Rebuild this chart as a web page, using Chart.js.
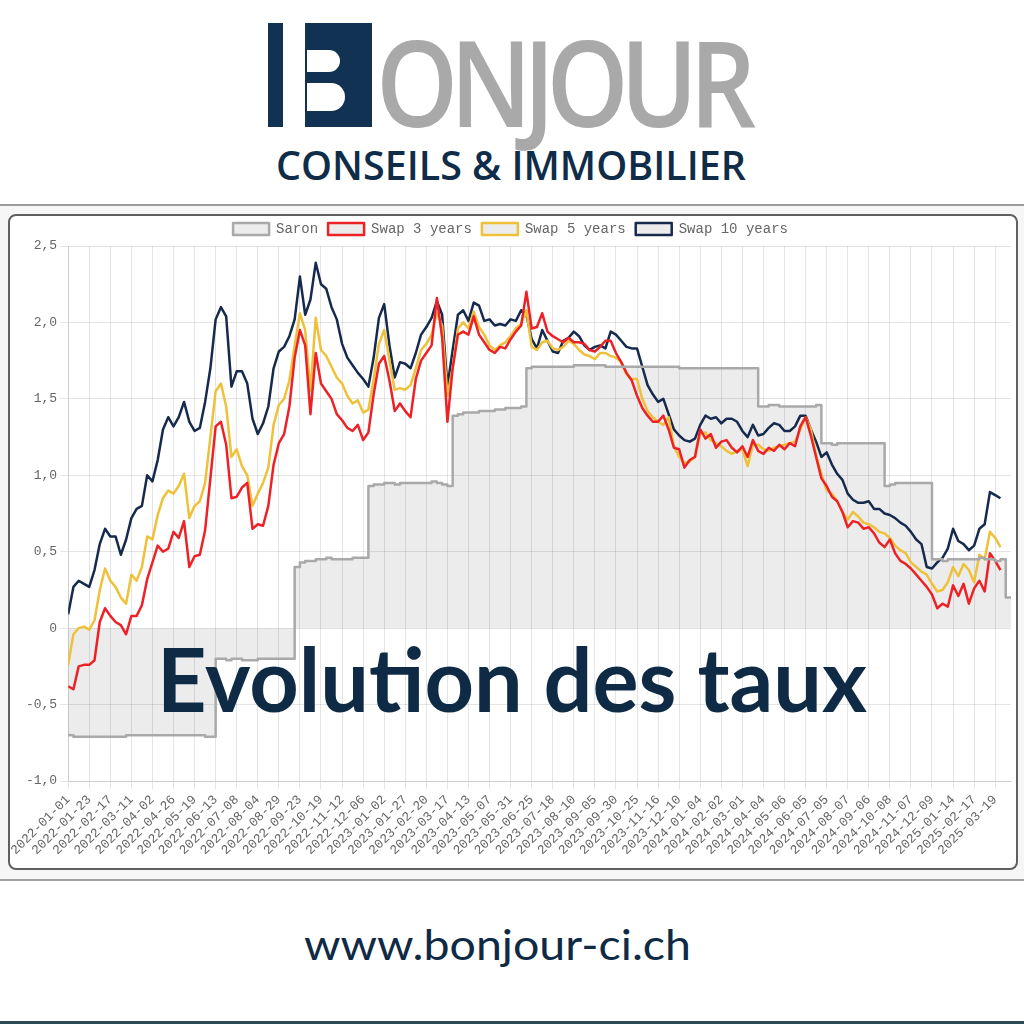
<!DOCTYPE html>
<html>
<head>
<meta charset="utf-8">
<script src="https://cdn.jsdelivr.net/npm/chart.js@4.4.1/dist/chart.umd.min.js"></script>
<style>
  html, body { margin: 0; padding: 0; background: #fff; }
  body { width: 1024px; height: 1024px; position: relative; overflow: hidden; }
  .abs { position: absolute; }
  .txt { position: absolute; white-space: nowrap; line-height: 1; transform-origin: 0 0; }
  #lbar { left: 268px; top: 23px; width: 15px; height: 104px; background: #123253; }
  #bblk { left: 305px; top: 23px; width: 67px; height: 104px; background: #123253; }
  .counter { position: absolute; background: #fff; }
  #onjour { font: 600 120px "Open Sans", sans-serif; color: #a9a9a9; letter-spacing: -0.08em; }
  #conseils { font: 600 39px "Open Sans", sans-serif; color: #0f2c48; }
  #topline { left: 0; top: 204px; width: 1024px; height: 2px; background: #9c9c9c; }
  #band { left: 0; top: 206px; width: 1024px; height: 673px; background: #f6f6f6; }
  #botline { left: 0; top: 879px; width: 1024px; height: 2px; background: #a0a0a0; }
  #footline { left: 0; top: 1021px; width: 1024px; height: 3px; background: #2d4b52; }
  #card { left: 8px; top: 214px; width: 1010px; height: 656px; box-sizing: border-box;
          border: 2px solid #606060; border-radius: 8px; background: #fff; }
  #wrap { position: absolute; left: 0; top: 0; width: 1006px; height: 652px; }
  #evo { font: 700 89px "Lato", sans-serif; color: #0f2a45; }
  #url { font: 400 44px "Lato", sans-serif; color: #0f2a45; }
</style>
</head>
<body>
<div class="abs" id="lbar"></div>
<div class="abs" id="bblk">
  <div class="counter" style="left:2px;top:27px;width:33px;height:22px;border-radius:0 11px 11px 0;"></div>
  <div class="counter" style="left:2px;top:60px;width:38px;height:28px;border-radius:0 14px 14px 0;"></div>
</div>
<div class="txt" id="onjour">ONJOUR</div>
<div class="txt" id="conseils">CONSEILS &amp; IMMOBILIER</div>

<div class="abs" id="topline"></div>
<div class="abs" id="band"></div>
<div class="abs" id="botline"></div>
<div class="abs" id="card"><div id="wrap"><canvas id="chart"></canvas></div></div>
<div class="txt" id="evo">Evolution des taux</div>
<div class="txt" id="url">www.bonjour-ci.ch</div>
<div class="abs" id="footline"></div>

<script>
// x axis: one label per tick, 4 samples between two ticks
const tickLabels = [
  "2022-01-01", "2022-01-23", "2022-02-17", "2022-03-11", "2022-04-02", "2022-04-26",
  "2022-05-19", "2022-06-13", "2022-07-08", "2022-08-04", "2022-08-29", "2022-09-23",
  "2022-10-19", "2022-11-12", "2022-12-06", "2023-01-02", "2023-01-27", "2023-02-20",
  "2023-03-17", "2023-04-13", "2023-05-07", "2023-05-31", "2023-06-25", "2023-07-18",
  "2023-08-10", "2023-09-05", "2023-09-30", "2023-10-25", "2023-11-16", "2023-12-10",
  "2024-01-04", "2024-02-02", "2024-03-01", "2024-04-04", "2024-05-06", "2024-06-05",
  "2024-07-05", "2024-08-07", "2024-09-06", "2024-10-08", "2024-11-07", "2024-12-09",
  "2025-01-14", "2025-02-17", "2025-03-19"
];
const PER_TICK = 4;

const saron = [
  -0.69, -0.70, -0.71, -0.71,  -0.71, -0.71, -0.71, -0.71,  -0.71, -0.71, -0.71, -0.71,
  -0.70, -0.70, -0.70, -0.70,  -0.70, -0.70, -0.70, -0.70,  -0.70, -0.70, -0.70, -0.70,
  -0.70, -0.70, -0.70, -0.71,  -0.71, -0.20, -0.20, -0.21,  -0.20, -0.20, -0.21, -0.21,
  -0.21, -0.20, -0.20, -0.20,  -0.20, -0.20, -0.20, -0.20,   0.40,  0.43,  0.44,  0.44,
   0.45,  0.45,  0.46,  0.45,   0.45,  0.45,  0.45,  0.46,   0.46,  0.46,  0.93,  0.94,
   0.94,  0.95,  0.95,  0.94,   0.95,  0.95,  0.95,  0.95,   0.95,  0.95,  0.96,  0.95,
   0.94,  0.93,  1.39,  1.40,   1.41,  1.41,  1.41,  1.42,   1.42,  1.42,  1.43,  1.43,
   1.44,  1.44,  1.44,  1.45,   1.70,  1.71,  1.71,  1.71,   1.71,  1.71,  1.71,  1.71,
   1.71,  1.72,  1.72,  1.72,   1.72,  1.72,  1.72,  1.71,   1.71,  1.71,  1.71,  1.71,
   1.71,  1.71,  1.71,  1.71,   1.71,  1.71,  1.71,  1.71,   1.71,  1.70,  1.70,  1.70,
   1.70,  1.70,  1.70,  1.70,   1.70,  1.70,  1.70,  1.70,   1.70,  1.70,  1.70,  1.70,
   1.45,  1.45,  1.46,  1.46,   1.45,  1.45,  1.45,  1.45,   1.45,  1.45,  1.45,  1.46,
   1.21,  1.21,  1.20,  1.21,   1.21,  1.21,  1.21,  1.21,   1.21,  1.21,  1.21,  1.21,
   0.93,  0.94,  0.95,  0.95,   0.95,  0.95,  0.95,  0.95,   0.95,  0.45,  0.45,  0.44,
   0.45,  0.45,  0.45,  0.45,   0.45,  0.45,  0.46,  0.45,   0.45,  0.44,  0.45,  0.20
];

const swap3 = [
  -0.38, -0.40, -0.25, -0.24,  -0.24, -0.21,  0.04,  0.13,   0.08,  0.04,  0.02, -0.04,
   0.08,  0.08,  0.15,  0.32,   0.43,  0.54,  0.50,  0.52,   0.63,  0.59,  0.70,  0.40,
   0.47,  0.48,  0.64,  0.98,   1.32,  1.35,  1.20,  0.85,   0.86,  0.92,  0.95,  0.65,
   0.68,  0.67,  0.80,  1.07,   1.21,  1.27,  1.45,  1.77,   1.95,  1.85,  1.40,  1.80,
   1.60,  1.55,  1.50,  1.40,   1.36,  1.31,  1.29,  1.33,   1.23,  1.28,  1.53,  1.73,
   1.78,  1.62,  1.42,  1.47,   1.42,  1.38,  1.63,  1.75,   1.80,  1.85,  2.16,  1.90,
   1.35,  1.70,  1.92,  1.94,   1.92,  2.04,  1.92,  1.87,   1.82,  1.80,  1.84,  1.83,
   1.89,  1.94,  1.98,  2.20,   1.96,  1.97,  2.06,  1.94,   1.91,  1.89,  1.87,  1.90,
   1.87,  1.87,  1.86,  1.82,   1.81,  1.84,  1.88,  1.88,   1.80,  1.74,  1.67,  1.62,
   1.52,  1.44,  1.39,  1.35,   1.35,  1.39,  1.30,  1.18,   1.17,  1.05,  1.10,  1.12,
   1.30,  1.24,  1.27,  1.18,   1.22,  1.23,  1.18,  1.15,   1.19,  1.12,  1.23,  1.16,
   1.14,  1.18,  1.16,  1.20,   1.17,  1.21,  1.19,  1.32,   1.38,  1.26,  1.12,  0.98,
   0.93,  0.86,  0.83,  0.76,   0.66,  0.70,  0.69,  0.65,   0.66,  0.62,  0.56,  0.53,
   0.58,  0.49,  0.44,  0.42,   0.39,  0.35,  0.31,  0.27,   0.22,  0.13,  0.16,  0.14,
   0.28,  0.21,  0.29,  0.16,   0.26,  0.31,  0.24,  0.49,   0.44,  0.38
];

const swap5 = [
  -0.24, -0.04,  0.00,  0.01,  -0.01,  0.05,  0.25,  0.39,   0.31,  0.27,  0.20,  0.16,
   0.35,  0.31,  0.40,  0.60,   0.58,  0.74,  0.85,  0.90,   0.88,  0.93,  1.01,  0.72,
   0.80,  0.83,  0.95,  1.25,   1.55,  1.60,  1.45,  1.12,   1.17,  1.06,  1.00,  0.80,
   0.88,  0.95,  1.05,  1.33,   1.46,  1.50,  1.62,  1.85,   2.06,  1.95,  1.55,  2.03,
   1.82,  1.78,  1.71,  1.64,   1.60,  1.52,  1.47,  1.49,   1.41,  1.43,  1.63,  1.86,
   1.95,  1.75,  1.56,  1.57,   1.56,  1.59,  1.70,  1.82,   1.86,  1.92,  2.06,  1.98,
   1.52,  1.70,  1.96,  2.00,   1.96,  2.07,  1.97,  1.92,   1.85,  1.82,  1.85,  1.87,
   1.91,  1.96,  1.99,  2.08,   1.84,  1.82,  1.87,  1.88,   1.83,  1.82,  1.84,  1.88,
   1.86,  1.82,  1.79,  1.78,   1.76,  1.80,  1.80,  1.78,   1.77,  1.74,  1.66,  1.63,
   1.63,  1.50,  1.42,  1.38,   1.35,  1.33,  1.38,  1.19,   1.12,  1.08,  1.09,  1.12,
   1.27,  1.28,  1.23,  1.21,   1.19,  1.16,  1.14,  1.16,   1.17,  1.06,  1.20,  1.20,
   1.17,  1.16,  1.18,  1.19,   1.20,  1.21,  1.22,  1.30,   1.38,  1.30,  1.13,  1.01,
   0.90,  0.88,  0.83,  0.76,   0.71,  0.76,  0.73,  0.69,   0.68,  0.66,  0.63,  0.62,
   0.59,  0.54,  0.51,  0.49,   0.43,  0.40,  0.37,  0.35,   0.29,  0.24,  0.25,  0.30,
   0.40,  0.34,  0.42,  0.38,   0.30,  0.48,  0.45,  0.63,   0.59,  0.53
];

const swap10 = [
   0.09,  0.27,  0.31,  0.29,   0.27,  0.38,  0.55,  0.65,   0.60,  0.60,  0.48,  0.58,
   0.72,  0.78,  0.80,  1.00,   0.96,  1.10,  1.30,  1.38,   1.32,  1.38,  1.48,  1.35,
   1.29,  1.31,  1.48,  1.70,   2.02,  2.10,  2.04,  1.58,   1.68,  1.68,  1.60,  1.37,
   1.27,  1.34,  1.45,  1.70,   1.81,  1.84,  1.91,  2.02,   2.30,  2.05,  2.15,  2.39,
   2.25,  2.22,  2.10,  2.02,   1.86,  1.77,  1.72,  1.67,   1.63,  1.58,  1.77,  2.03,
   2.12,  1.85,  1.64,  1.74,   1.73,  1.70,  1.80,  1.92,   1.97,  2.03,  2.14,  2.05,
   1.58,  1.82,  2.05,  2.08,   2.01,  2.13,  2.11,  2.01,   2.02,  1.98,  1.99,  1.98,
   2.02,  2.01,  2.08,  2.05,   1.89,  1.83,  1.95,  1.88,   1.81,  1.80,  1.88,  1.90,
   1.94,  1.91,  1.85,  1.82,   1.84,  1.85,  1.83,  1.94,   1.92,  1.88,  1.84,  1.83,
   1.83,  1.71,  1.59,  1.53,   1.48,  1.50,  1.40,  1.30,   1.26,  1.23,  1.22,  1.24,
   1.33,  1.39,  1.37,  1.38,   1.34,  1.37,  1.37,  1.35,   1.29,  1.25,  1.33,  1.26,
   1.27,  1.31,  1.34,  1.33,   1.29,  1.29,  1.32,  1.39,   1.39,  1.30,  1.22,  1.12,
   1.15,  1.07,  1.01,  0.97,   0.88,  0.84,  0.82,  0.82,   0.83,  0.78,  0.78,  0.75,
   0.74,  0.72,  0.69,  0.67,   0.63,  0.58,  0.55,  0.40,   0.39,  0.43,  0.46,  0.52,
   0.65,  0.57,  0.55,  0.51,   0.54,  0.65,  0.68,  0.89,   0.87,  0.85
];

const LIGHT_FILL = "rgba(0, 0, 0, 0.075)";
const TICK_FONT = { family: "'Liberation Mono', monospace", size: 13 };

function toPoints(values) {
  return values.map((v, i) => ({ x: i / PER_TICK, y: v }));
}

// size a text so that `glyph` spans top..baseline, then squeeze it to `width`
function placeText(id, left, top, baseline, width, glyph) {
  const el = document.getElementById(id);
  const cs = getComputedStyle(el);
  const ctx = document.createElement("canvas").getContext("2d");
  ctx.font = cs.fontWeight + " 100px " + cs.fontFamily;
  const h = ctx.measureText(glyph).actualBoundingBoxAscent;
  el.style.fontSize = ((baseline - top) / h * 100) + "px";
  const probe = document.createElement("span");
  probe.style.cssText = "display:inline-block;width:0;height:0;vertical-align:baseline;";
  el.appendChild(probe);
  const base = probe.getBoundingClientRect().top - el.getBoundingClientRect().top;
  el.removeChild(probe);
  el.style.left = left + "px";
  el.style.top = (baseline - base) + "px";
  el.style.transform = "scaleX(" + (width / el.getBoundingClientRect().width) + ")";
}

placeText("onjour", 376, 41, 127, 372, "N");
placeText("conseils", 276, 152, 180, 470, "H");
placeText("evo", 157, 648, 712, 710, "E");
placeText("url", 304, 928, 960, 387, "b");

new Chart(document.getElementById("chart"), {
  type: "line",
  data: {
    datasets: [{
      label: "Saron",
      data: toPoints(saron),
      borderColor: "#a9a9a9",
      backgroundColor: LIGHT_FILL,
      fill: "origin",
      stepped: "after",
      borderWidth: 2.5
    }, {
      label: "Swap 3 years",
      data: toPoints(swap3),
      borderColor: "#ec2227",
      backgroundColor: LIGHT_FILL,
      fill: false,
      borderWidth: 2.5
    }, {
      label: "Swap 5 years",
      data: toPoints(swap5),
      borderColor: "#efc13a",
      backgroundColor: LIGHT_FILL,
      fill: false,
      borderWidth: 2.5
    }, {
      label: "Swap 10 years",
      data: toPoints(swap10),
      borderColor: "#162a4d",
      backgroundColor: LIGHT_FILL,
      fill: false,
      borderWidth: 2.5
    }]
  },
  options: {
    responsive: true,
    maintainAspectRatio: false,
    animation: false,
    elements: { point: { radius: 0 }, line: { tension: 0, borderJoinStyle: "round" } },
    layout: { padding: { left: 0, right: 5, top: -4, bottom: 0 } },
    plugins: {
      filler: { drawTime: "beforeDatasetsDraw" },
      tooltip: { enabled: false },
      legend: {
        labels: {
          font: { family: "'Liberation Mono', monospace", size: 14 },
          color: "#666",
          boxWidth: 36,
          boxHeight: 12,
          padding: 10
        }
      }
    },
    scales: {
      x: {
        type: "linear",
        min: 0,
        max: (saron.length - 1) / PER_TICK,
        afterFit: s => { s.height = 87; },
        grid: { color: "rgba(0, 0, 0, 0.1)" },
        ticks: {
          stepSize: 1,
          includeBounds: false,
          autoSkip: false,
          minRotation: 45,
          maxRotation: 45,
          color: "#666",
          font: TICK_FONT,
          callback: v => tickLabels[v] || ""
        }
      },
      y: {
        min: -1,
        max: 2.5,
        afterFit: s => { s.width = 57; },
        grid: { color: "rgba(0, 0, 0, 0.1)" },
        ticks: {
          stepSize: 0.5,
          color: "#666",
          font: TICK_FONT,
          callback: v => v === 0 ? "0" : v.toFixed(1).replace(".", ",")
        }
      }
    }
  }
});
</script>
</body>
</html>
